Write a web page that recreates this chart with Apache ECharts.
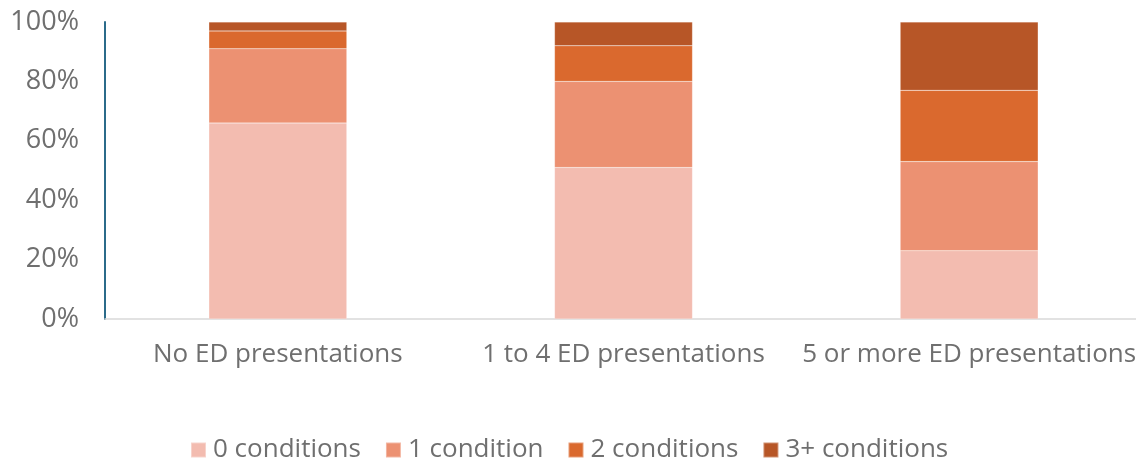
<!DOCTYPE html>
<html>
<head>
<meta charset="utf-8">
<script src="https://cdn.jsdelivr.net/npm/echarts@6/dist/echarts.min.js"></script>
<style>
  html, body { margin: 0; padding: 0; background: #ffffff; overflow: hidden; }
  #wrap { width: 1136px; height: 460px; overflow: hidden; }
  #chart { width: 1142px; height: 460px; }
</style>
</head>
<body>
<div id="wrap"><div id="chart"></div></div>
<script>
// Share of people by number of chronic conditions, grouped by ED presentations
const categories = ['No ED presentations', '1 to 4 ED presentations', '5 or more ED presentations'];
const seriesNames = ['0 conditions', '1 condition', '2 conditions', '3+ conditions'];
const zeroConditions = [66, 51, 23];
const oneCondition = [25, 29, 30];
const twoConditions = [6, 12, 24];
const threePlusConditions = [3, 8, 23];
const yTickLabels = ['0%', '20%', '40%', '60%', '80%', '100%'];

const colors = ['#F3BCB0', '#EC9172', '#DA692E', '#B75627'];
const values = [zeroConditions, oneCondition, twoConditions, threePlusConditions];
const fontFamily = '"Open Sans", "Liberation Sans", sans-serif';
const textColor = '#6f6f6f';

const chart = echarts.init(document.getElementById('chart'), null, { renderer: 'canvas' });

chart.setOption({
  animation: false,
  color: colors,
  grid: { left: 105, top: 22, right: 0, height: 297, containLabel: false },
  legend: {
    top: 435,
    left: 190,
    padding: 0,
    itemWidth: 15,
    itemHeight: 15,
    itemGap: 24,
    icon: 'rect',
    textStyle: { fontFamily, fontSize: 26, lineHeight: 30, color: textColor, padding: [0, 0, 0, 2] },
    data: seriesNames
  },
  xAxis: {
    type: 'category',
    data: categories,
    axisLine: { show: true, lineStyle: { color: '#d9d9d9', width: 1.5 } },
    axisTick: { show: false },
    axisLabel: { interval: 0, fontFamily, fontSize: 26, color: textColor, margin: 23 }
  },
  yAxis: {
    type: 'value',
    min: 0,
    max: 100,
    interval: 20,
    axisLine: { show: true, lineStyle: { color: '#2B6B8A', width: 2 } },
    axisTick: { show: false },
    splitLine: { show: false },
    axisLabel: {
      fontFamily, fontSize: 27, color: textColor, margin: 26,
      formatter: v => yTickLabels[v / 20]
    }
  },
  series: seriesNames.map((name, i) => ({
    name,
    type: 'bar',
    stack: 'total',
    barWidth: 138,
    data: values[i],
    itemStyle: { color: colors[i], borderColor: 'rgba(255,255,255,0.35)', borderWidth: 0.5 }
  }))
});
</script>
</body>
</html>
